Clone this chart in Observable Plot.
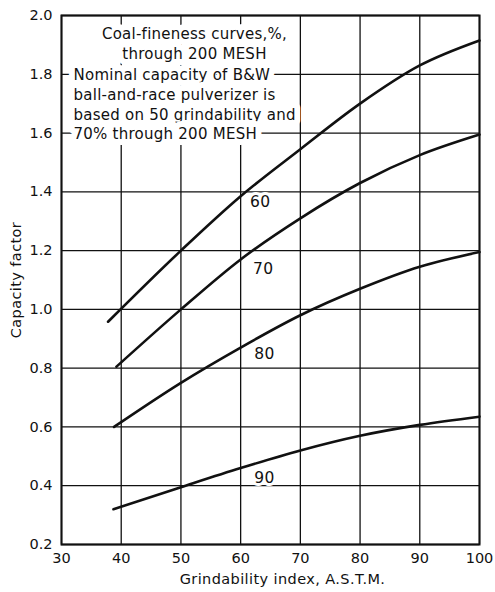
<!DOCTYPE html>
<html><head><meta charset="utf-8">
<script src="https://cdn.jsdelivr.net/npm/d3@7"></script>
<script src="https://cdn.jsdelivr.net/npm/@observablehq/plot@0.6"></script>
<style>
body{margin:0;background:#fff}
.note text{letter-spacing:0.25px}
.ttl text{letter-spacing:0.4px}
</style>
</head><body><div id="chart"></div>
<script>
// Grindability index (A.S.T.M.) and capacity factor for each coal-fineness curve
const x60 = [37.8, 50, 60, 70, 80, 90, 100];
const y60 = [0.958, 1.2, 1.385, 1.545, 1.70, 1.83, 1.915];
const x70 = [39.2, 50, 60, 70, 80, 90, 100];
const y70 = [0.805, 1.0, 1.17, 1.31, 1.43, 1.525, 1.595];
const x80 = [38.8, 50, 60, 70, 80, 90, 100];
const y80 = [0.60, 0.75, 0.87, 0.98, 1.07, 1.145, 1.195];
const x90 = [38.7, 50, 60, 70, 80, 90, 100];
const y90 = [0.32, 0.395, 0.46, 0.52, 0.57, 0.607, 0.635];

const fineness = ["60", "70", "80", "90"];
const labelX = [63.3, 63.8, 64.0, 64.0];
const labelY = [1.364, 1.136, 0.847, 0.425];

const xTicks = [30, 40, 50, 60, 70, 80, 90, 100];
const yTicks = [0.2, 0.4, 0.6, 0.8, 1.0, 1.2, 1.4, 1.6, 1.8, 2.0];

const noteHead = "Coal-fineness curves,%,\nthrough 200 MESH";
const noteBody = "Nominal capacity of B&W\nball-and-race pulverizer is\nbased on 50 grindability and\n70% through 200 MESH";
const yLabel = "Capacity factor";
const xLabel = "Grindability index, A.S.T.M.";

const curves = [
  {name: "60", xs: x60, ys: y60},
  {name: "70", xs: x70, ys: y70},
  {name: "80", xs: x80, ys: y80},
  {name: "90", xs: x90, ys: y90}
].flatMap(c => c.xs.map((x, i) => ({fineness: c.name, g: x, cf: c.ys[i]})));
const labels = fineness.map((f, i) => ({f, g: labelX[i], cf: labelY[i]}));

const font = "DejaVu Sans";
const chart = Plot.plot({
  width: 495,
  height: 592,
  marginLeft: 61,
  marginRight: 16,
  marginTop: 15,
  marginBottom: 48,
  style: {fontFamily: font, fontSize: "14px", background: "#fff", color: "#111"},
  x: {domain: [30, 100], ticks: xTicks},
  y: {domain: [0.2, 2.0], ticks: yTicks},
  marks: [
    Plot.gridX(xTicks, {stroke: "#111", strokeOpacity: 1, strokeWidth: 1.3}),
    Plot.gridY(yTicks, {stroke: "#111", strokeOpacity: 1, strokeWidth: 1.3}),
    Plot.axisX(xTicks, {tickSize: 0, tickPadding: 8, label: null, fontSize: 14.5}),
    Plot.axisY(yTicks, {tickSize: 0, tickPadding: 9, tickFormat: d3.format(".1f"), label: null, fontSize: 14.5}),
    Plot.text([yLabel], {frameAnchor: "left", textAnchor: "middle", rotate: -90, dx: -45, dy: 0, fontSize: 14.5, className: "ttl"}),
    Plot.text([xLabel], {frameAnchor: "bottom", textAnchor: "middle", dx: 12, dy: 39, fontSize: 14.5, className: "ttl"}),
    Plot.text([noteHead], {frameAnchor: "top-left", dx: 133, dy: 10, lineAnchor: "top", textAnchor: "middle", lineHeight: 1.3, fontSize: 15, fill: "#111", stroke: "white", strokeWidth: 12, className: "note"}),
    Plot.text([noteBody], {frameAnchor: "top-left", dx: 12, dy: 51, lineAnchor: "top", textAnchor: "start", lineHeight: 1.31, fontSize: 15, fill: "#111", stroke: "white", strokeWidth: 12, className: "note"}),
    Plot.text(labels, {x: "g", y: "cf", text: "f", fontSize: 15.5, fill: "#111", stroke: "white", strokeWidth: 6, className: "ttl"}),
    Plot.line(curves, {x: "g", y: "cf", z: "fineness", curve: "monotone-x", stroke: "#111", strokeWidth: 2.6}),
    Plot.frame({stroke: "#111", strokeWidth: 2})
  ]
});
document.getElementById("chart").appendChild(chart);
</script>
</body></html>
